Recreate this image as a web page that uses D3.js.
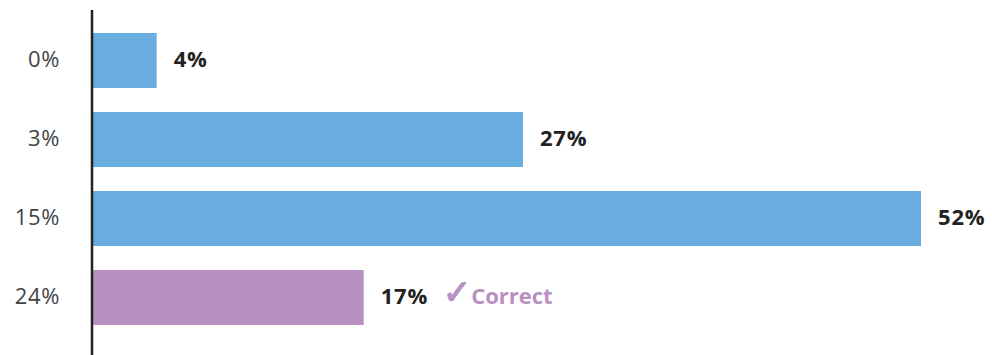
<!DOCTYPE html>
<html>
<head>
<meta charset="utf-8">
<script src="https://cdn.jsdelivr.net/npm/d3@7"></script>
<style>
  html, body { margin: 0; padding: 0; background: #fff; }
  svg { display: block; font-family: "Open Sans", "Noto Sans", sans-serif; }
</style>
</head>
<body>
<svg id="chart" width="992" height="355"></svg>
<script>
// Answer options and share of responses for each
const categories = ["0%", "3%", "15%", "24%"];
const shares = [4, 27, 52, 17];
const correctAnswer = "24%";
const correctLabel = "Correct";

const svg = d3.select("#chart");
const axisX = 92;

const x = d3.scaleLinear().domain([0, 52]).range([axisX + 1, 921]);
const y = d3.scaleBand()
  .domain(categories)
  .range([21, 337])
  .paddingInner(0.304)
  .paddingOuter(0.152);

const blue = "#69acdf";
const purple = "#b890c2";

svg.selectAll("rect.bar")
  .data(categories)
  .join("rect")
  .attr("class", "bar")
  .attr("x", x(0))
  .attr("y", d => y(d))
  .attr("width", (d, i) => x(shares[i]) - x(0))
  .attr("height", y.bandwidth())
  .attr("fill", d => d === correctAnswer ? purple : blue);

// vertical baseline
svg.append("line")
  .attr("x1", axisX).attr("x2", axisX)
  .attr("y1", 10).attr("y2", 355)
  .attr("stroke", "#222")
  .attr("stroke-width", 2.5);

// category labels
svg.selectAll("text.cat")
  .data(categories)
  .join("text")
  .attr("class", "cat")
  .attr("x", 60)
  .attr("y", d => y(d) + y.bandwidth() / 2)
  .attr("dy", "0.3em")
  .attr("text-anchor", "end")
  .attr("font-size", 22)
  .attr("fill", "#444")
  .attr("letter-spacing", 0.6)
  .text(d => d);

// value labels
svg.selectAll("text.val")
  .data(categories)
  .join("text")
  .attr("class", "val")
  .attr("x", (d, i) => x(shares[i]) + 17)
  .attr("y", d => y(d) + y.bandwidth() / 2)
  .attr("dy", "0.3em")
  .attr("font-size", 22)
  .attr("font-weight", "bold")
  .attr("fill", "#222")
  .attr("letter-spacing", 0.8)
  .text((d, i) => shares[i] + "%");

// marker beside the correct answer
const ci = categories.indexOf(correctAnswer);
const mark = svg.append("text")
  .attr("x", x(shares[ci]) + 79)
  .attr("y", y(correctAnswer) + y.bandwidth() / 2)
  .attr("dy", "0.38em")
  .attr("font-weight", "bold")
  .attr("fill", purple);
mark.append("tspan")
  .attr("font-size", 34)
  .attr("font-family", "DejaVu Sans")
  .attr("stroke", purple)
  .attr("stroke-width", 1.2)
  .text("✓");
mark.append("tspan").attr("font-size", 22).attr("dx", 0).text(correctLabel);
</script>
</body>
</html>
